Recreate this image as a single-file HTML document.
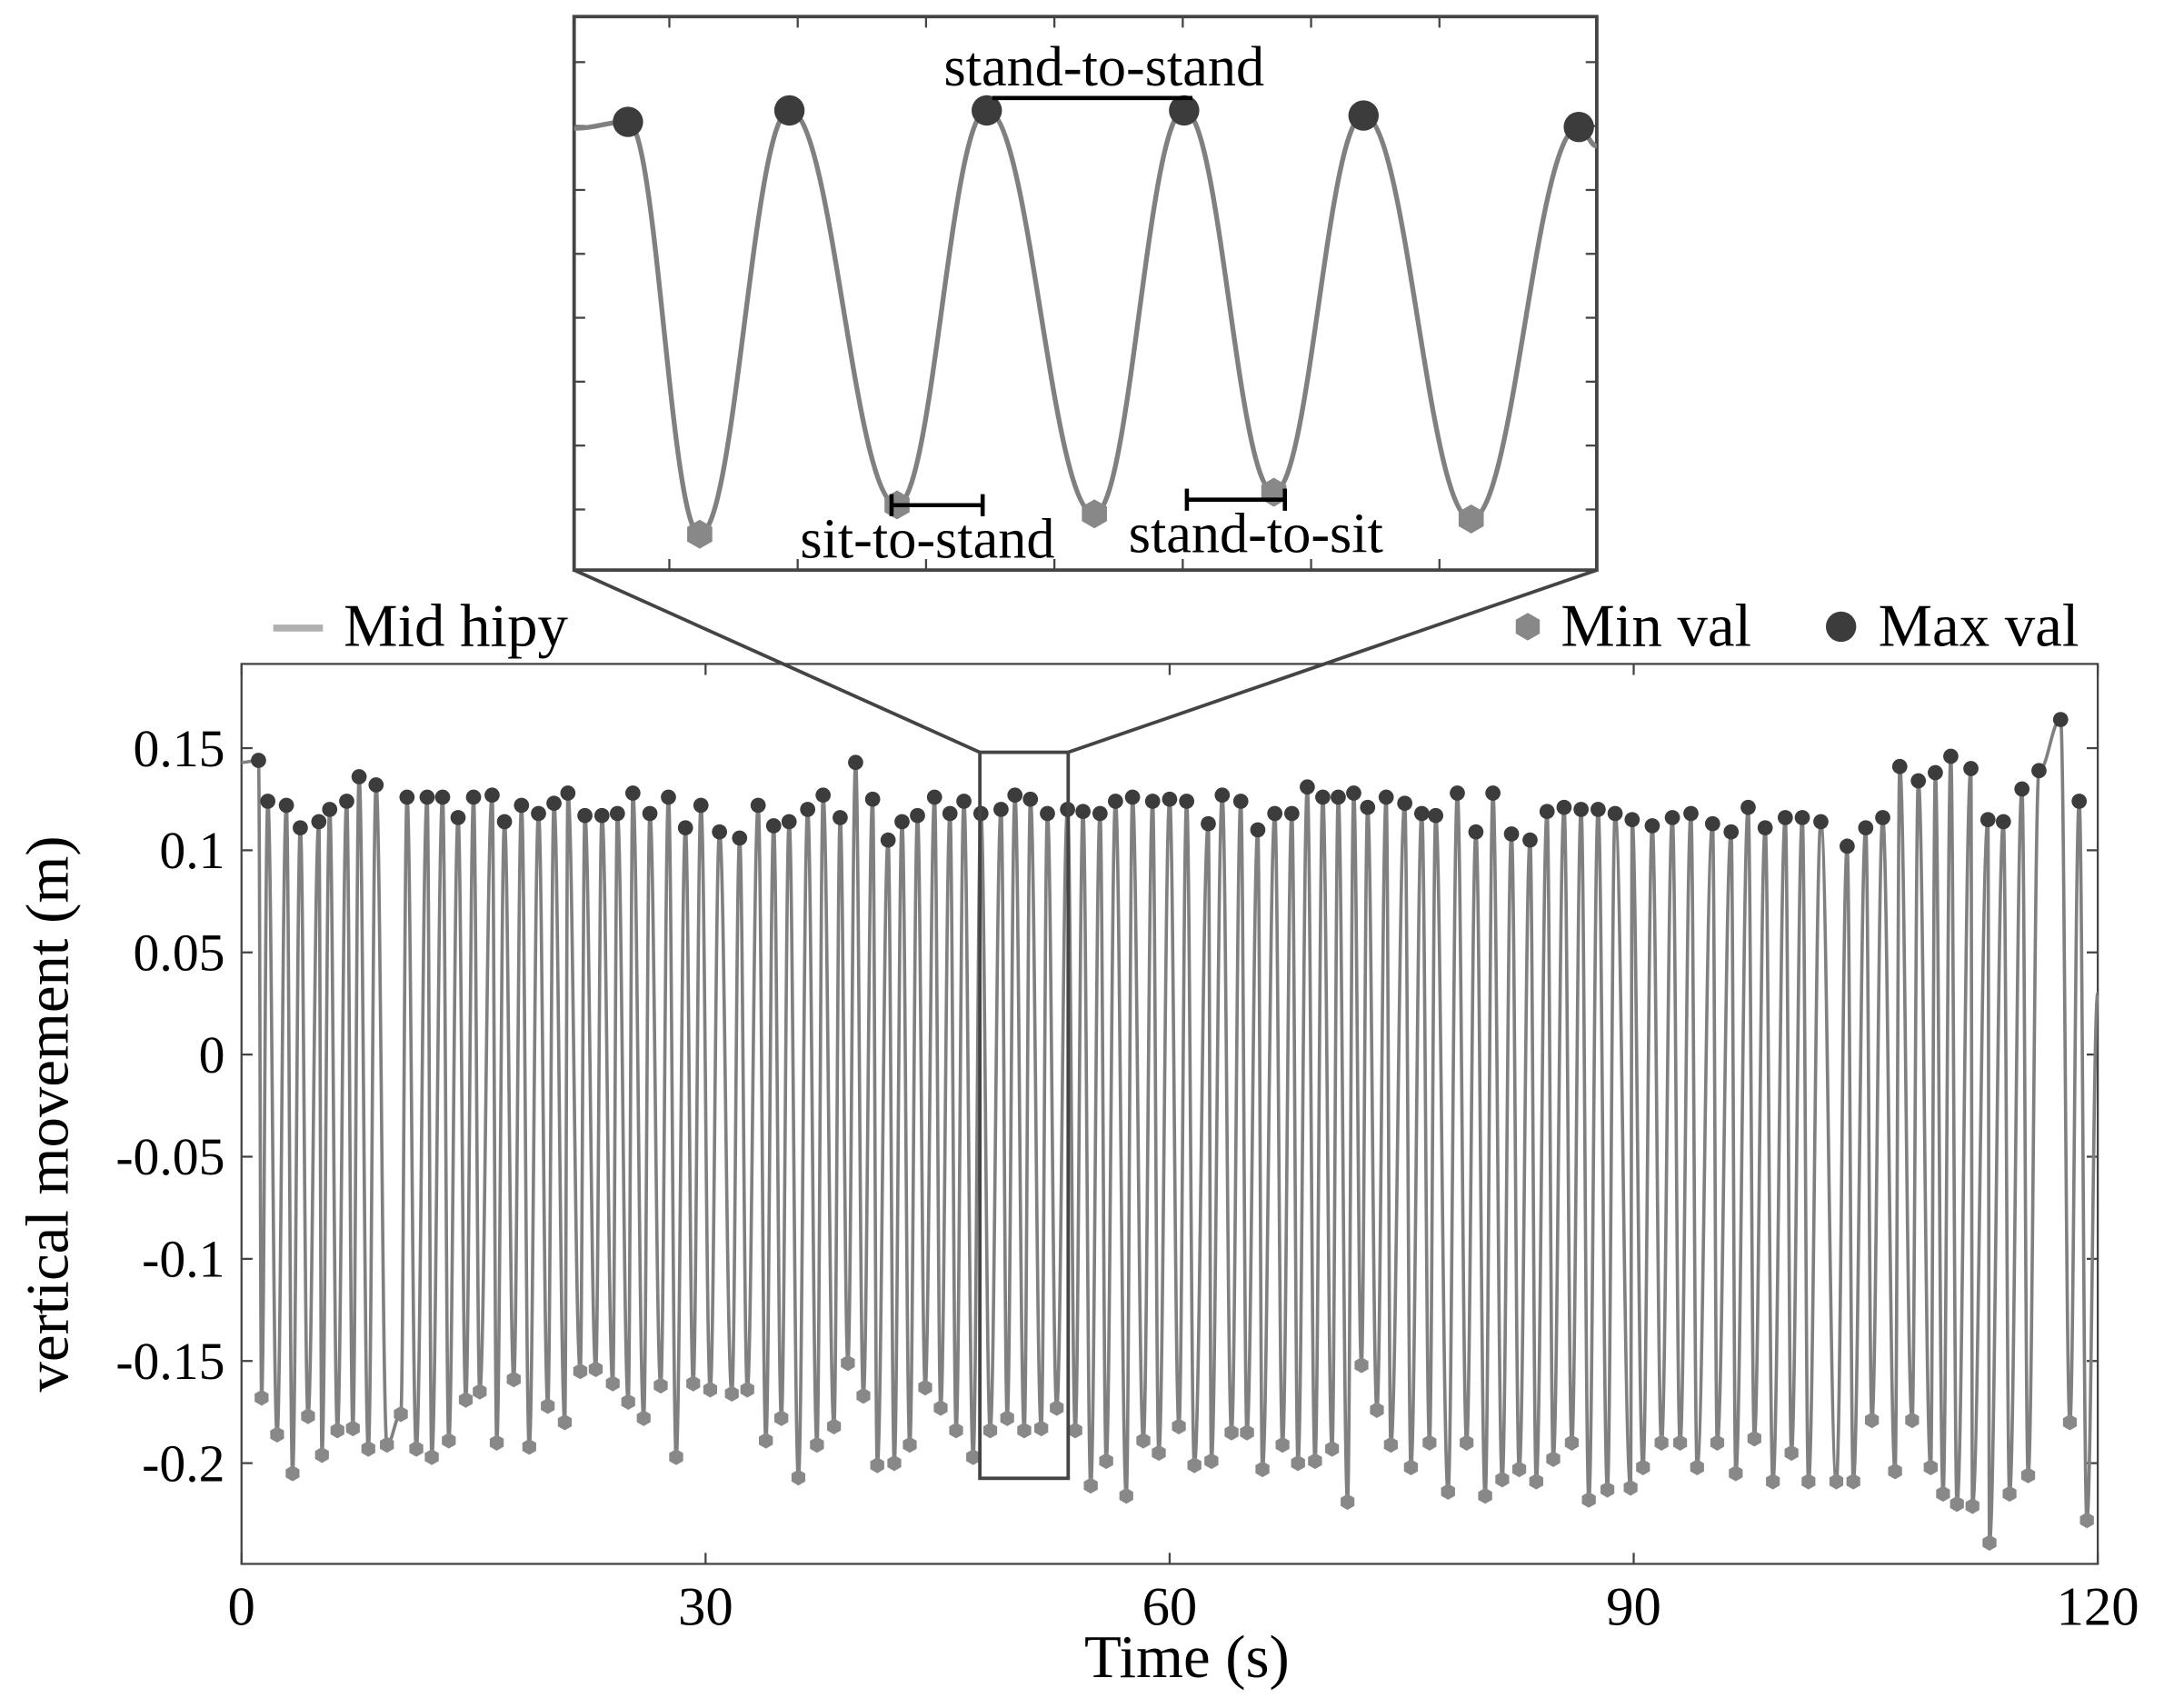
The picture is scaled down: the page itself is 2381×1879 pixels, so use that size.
<!DOCTYPE html>
<html><head><meta charset="utf-8"><style>
html,body{margin:0;padding:0;background:#fff}
svg{display:block}
text{font-family:"Liberation Serif",serif;fill:#000}
</style></head><body>
<svg id="chart" xmlns="http://www.w3.org/2000/svg" width="2381" height="1879" viewBox="0 0 1568 1237.4">
<rect width="1568" height="1238" fill="#fff"/>
<g id="main"></g>
<g id="inset"></g>
</svg>
<script>
const maxT=[1.1,1.7,2.9,3.8,5.0,5.7,6.8,7.6,8.7,10.7,12.0,13.0,14.0,15.0,16.2,17.0,18.1,19.2,20.2,21.1,22.2,23.3,24.3,25.3,26.4,27.6,28.7,29.7,30.9,32.2,33.4,34.4,35.4,36.6,37.6,38.7,39.7,40.8,41.8,42.7,43.7,44.8,45.8,46.7,47.8,49.1,50.0,51.0,52.1,53.4,54.4,55.5,56.5,57.6,58.9,60.0,61.1,62.5,63.4,64.6,65.7,66.8,67.9,68.9,69.9,70.9,71.9,72.8,74.0,75.2,76.3,77.2,78.6,79.8,80.9,82.1,83.3,84.4,85.5,86.6,87.7,88.8,89.9,91.2,92.5,93.7,95.1,96.3,97.4,98.5,99.8,100.9,102.1,103.8,105.0,106.1,107.2,108.4,109.5,110.5,111.8,112.9,113.9,115.1,116.2,117.6,118.8];
const maxV=[.144,.124,.122,.111,.114,.120,.124,.136,.132,.126,.126,.126,.116,.126,.127,.114,.122,.118,.123,.128,.117,.117,.118,.128,.118,.126,.111,.122,.109,.106,.122,.112,.114,.120,.127,.116,.143,.125,.105,.114,.117,.126,.118,.124,.118,.120,.127,.125,.118,.120,.119,.118,.124,.126,.124,.125,.124,.113,.127,.124,.110,.118,.118,.131,.126,.126,.128,.121,.126,.123,.118,.117,.128,.109,.128,.108,.105,.119,.121,.120,.120,.118,.115,.112,.116,.118,.113,.109,.121,.111,.116,.116,.114,.102,.111,.116,.141,.134,.138,.146,.140,.115,.114,.130,.139,.164,.124];
const minT=[1.3,2.3,3.3,4.3,5.2,6.2,7.2,8.2,9.4,10.3,11.3,12.3,13.4,14.5,15.4,16.5,17.6,18.6,19.8,20.9,21.9,22.9,24.0,25.0,26.0,27.1,28.1,29.2,30.3,31.7,32.7,33.9,34.9,36.0,37.2,38.3,39.2,40.2,41.1,42.2,43.2,44.2,45.2,46.2,47.3,48.4,49.5,50.6,51.7,52.7,53.9,54.9,55.9,57.2,58.3,59.3,60.6,61.6,62.7,64.0,65.0,66.0,67.3,68.3,69.4,70.5,71.5,72.4,73.4,74.3,75.6,76.8,78.0,79.2,80.4,81.5,82.6,83.7,84.8,86.0,87.1,88.3,89.8,90.6,91.8,93.0,94.1,95.4,96.6,97.8,99.0,100.2,101.3,103.1,104.2,105.4,106.9,108.0,109.2,110.0,110.9,111.9,113.0,114.3,115.5,118.2,119.3];
const minV=[-.168,-.186,-.205,-.177,-.196,-.184,-.183,-.193,-.191,-.176,-.193,-.197,-.189,-.169,-.165,-.190,-.159,-.192,-.172,-.180,-.155,-.154,-.161,-.170,-.178,-.162,-.197,-.161,-.164,-.166,-.164,-.189,-.178,-.207,-.191,-.182,-.151,-.167,-.201,-.200,-.191,-.163,-.173,-.184,-.197,-.184,-.178,-.184,-.183,-.173,-.184,-.211,-.199,-.216,-.189,-.195,-.182,-.201,-.199,-.185,-.185,-.203,-.191,-.200,-.199,-.193,-.219,-.152,-.174,-.191,-.202,-.190,-.214,-.190,-.216,-.208,-.203,-.209,-.198,-.190,-.218,-.213,-.212,-.202,-.190,-.190,-.202,-.190,-.205,-.188,-.209,-.195,-.209,-.209,-.209,-.179,-.204,-.179,-.202,-.215,-.220,-.221,-.239,-.215,-.206,-.180,-.228];
const lineStart=[0,0.143], lineEnd=[120,0.03];
const xTicks=[0,30,60,90,120];
const yTicks=[0.15,0.1,0.05,0,-0.05,-0.1,-0.15,-0.2];
const yTickLabels=["0.15","0.1","0.05","0","-0.05","-0.1","-0.15","-0.2"];
const insetMaxT=[48.0,48.9,50.0,51.1,52.1,53.3];
const insetMaxV=[.121,.130,.130,.130,.126,.117];
const insetMinT=[48.4,49.5,50.6,51.6,52.7];
const insetMinV=[-.203,-.180,-.187,-.170,-.191];
const insetStart=[47.7,0.116], insetEnd=[53.4,0.102];

const NS="http://www.w3.org/2000/svg";
function mk(parent,tag,attrs,txt){const e=document.createElementNS(NS,tag);for(const k in attrs)e.setAttribute(k,attrs[k]);if(txt!=null)e.textContent=txt;parent.appendChild(e);return e;}
const X0=175,X1=1520,Y0=481,Y1=1133;
const xs=t=>X0+(t-0)/120*(X1-X0);
const ys=v=>764-v*1480;
const main=document.getElementById('main');
function hexPts(cx,cy,r){let p=[];for(let i=0;i<6;i++){const a=Math.PI/6+i*Math.PI/3;p.push((cx+r*Math.cos(a)).toFixed(1)+','+(cy+r*Math.sin(a)).toFixed(1));}return p.join(' ');}
function pathFrom(pts,sx,sy){pts.sort((a,b)=>a[0]-b[0]);let d='M'+sx(pts[0][0])+','+sy(pts[0][1]);for(let i=1;i<pts.length;i++){const x0=sx(pts[i-1][0]),y0=sy(pts[i-1][1]),x1=sx(pts[i][0]),y1=sy(pts[i][1]);const m=(x1-x0)*0.4;d+=` C${x0+m},${y0} ${x1-m},${y1} ${x1},${y1}`;}return d;}

let fr=mk(main,'rect',{x:X0,y:Y0,width:X1-X0,height:Y1-Y0,fill:'none',stroke:'#444','stroke-width':1.5});

xTicks.forEach(t=>{const x=xs(t);
 mk(main,'line',{x1:x,x2:x,y1:Y1,y2:Y1-8,stroke:'#444','stroke-width':1.5});
 mk(main,'line',{x1:x,x2:x,y1:Y0,y2:Y0+8,stroke:'#444','stroke-width':1.5});
 const l=mk(main,'text',{x:x,y:1177,'text-anchor':'middle','font-size':40},String(t));
 });
yTicks.forEach((v,i)=>{const y=ys(v);
 mk(main,'line',{x1:X0,x2:X0+8,y1:y,y2:y,stroke:'#444','stroke-width':1.5});
 mk(main,'line',{x1:X1,x2:X1-8,y1:y,y2:y,stroke:'#444','stroke-width':1.5});
 const l=mk(main,'text',{x:163,y:y+13,'text-anchor':'end','font-size':38},yTickLabels[i]);
 });
let xt=mk(main,'text',{x:860,y:1215,'text-anchor':'middle','font-size':44},'Time (s)');

let yt=mk(main,'text',{x:0,y:0,'text-anchor':'middle','font-size':44,transform:'translate(49,807) rotate(-90)'},'vertical movement (m)');


let pts=[lineStart.slice(),lineEnd.slice()];
maxT.forEach((t,i)=>pts.push([t,maxV[i]]));minT.forEach((t,i)=>pts.push([t,minV[i]]));
let ln=mk(main,'path',{d:pathFrom(pts,xs,ys),fill:'none',stroke:'#808080','stroke-width':2.4});

minT.forEach((t,i)=>{const h=mk(main,'polygon',{points:hexPts(xs(t),ys(minV[i]),5.8),fill:'#888'});
 });
maxT.forEach((t,i)=>{const c=mk(main,'circle',{cx:xs(t),cy:ys(maxV[i]),r:5.5,fill:'#3c3c3c'});
 });

let lg=mk(main,'g',{});
mk(lg,'line',{x1:198,x2:234,y1:455,y2:455,stroke:'#b0b0b0','stroke-width':5});
mk(lg,'text',{x:249,y:468,'font-size':44},'Mid hipy');
mk(lg,'polygon',{points:hexPts(1107,454,10),fill:'#888'});
mk(lg,'text',{x:1131,y:468,'font-size':44},'Min val');
mk(lg,'circle',{cx:1334,cy:454,r:11,fill:'#3c3c3c'});
mk(lg,'text',{x:1361,y:468,'font-size':44},'Max val');

let zr=mk(main,'rect',{x:710,y:545,width:64,height:526,fill:'none',stroke:'#444','stroke-width':2.5});

mk(main,'line',{x1:416,y1:413,x2:710,y2:545,stroke:'#444','stroke-width':2.5});
mk(main,'line',{x1:1157,y1:413,x2:774,y2:545,stroke:'#444','stroke-width':2.5});

const inset=document.getElementById('inset');
const IX0=416,IX1=1157,IY0=12,IY1=413;
const ixs=t=>IX0+(t-47.7)/(53.4-47.7)*(IX1-IX0);
const iys=v=>80+(0.13-v)*922;
mk(inset,'rect',{x:IX0,y:IY0,width:IX1-IX0,height:IY1-IY0,fill:'#fff',stroke:'#444','stroke-width':2.5});
for(let i=0;i<8;i++){const y=45+i*46.3;mk(inset,'line',{x1:IX0,x2:IX0+8,y1:y,y2:y,stroke:'#444','stroke-width':1.5});mk(inset,'line',{x1:IX1,x2:IX1-8,y1:y,y2:y,stroke:'#444','stroke-width':1.5});}
for(let i=0;i<7;i++){const x=485+i*93;mk(inset,'line',{x1:x,x2:x,y1:IY1,y2:IY1-8,stroke:'#444','stroke-width':1.5});mk(inset,'line',{x1:x,x2:x,y1:IY0,y2:IY0+8,stroke:'#444','stroke-width':1.5});}
let ipts=[insetStart.slice(),insetEnd.slice()];
insetMaxT.forEach((t,i)=>ipts.push([t,insetMaxV[i]]));insetMinT.forEach((t,i)=>ipts.push([t,insetMinV[i]]));
let il=mk(inset,'path',{d:pathFrom(ipts,ixs,iys),fill:'none',stroke:'#808080','stroke-width':3.5});

insetMinT.forEach((t,i)=>{const h=mk(inset,'polygon',{points:hexPts(ixs(t),iys(insetMinV[i]),10.5),fill:'#888'});
 });
insetMaxT.forEach((t,i)=>{const c=mk(inset,'circle',{cx:ixs(t),cy:iys(insetMaxV[i]),r:11,fill:'#3c3c3c'});
 });
function bar(x1,x2,y){mk(inset,'line',{x1:x1,x2:x2,y1:y,y2:y,stroke:'#000','stroke-width':3});mk(inset,'line',{x1:x1,x2:x1,y1:y-8,y2:y+8,stroke:'#000','stroke-width':3});mk(inset,'line',{x1:x2,x2:x2,y1:y-8,y2:y+8,stroke:'#000','stroke-width':3});}
mk(inset,'line',{x1:719,x2:864,y1:71,y2:71,stroke:'#000','stroke-width':3});
let a1=mk(inset,'text',{x:800,y:62,'text-anchor':'middle','font-size':41},'stand-to-stand');

bar(646,712,366);
let a2=mk(inset,'text',{x:672,y:404,'text-anchor':'middle','font-size':41},'sit-to-stand');

bar(860,931,362);
let a3=mk(inset,'text',{x:910,y:400,'text-anchor':'middle','font-size':41},'stand-to-sit');

</script>
</body></html>
